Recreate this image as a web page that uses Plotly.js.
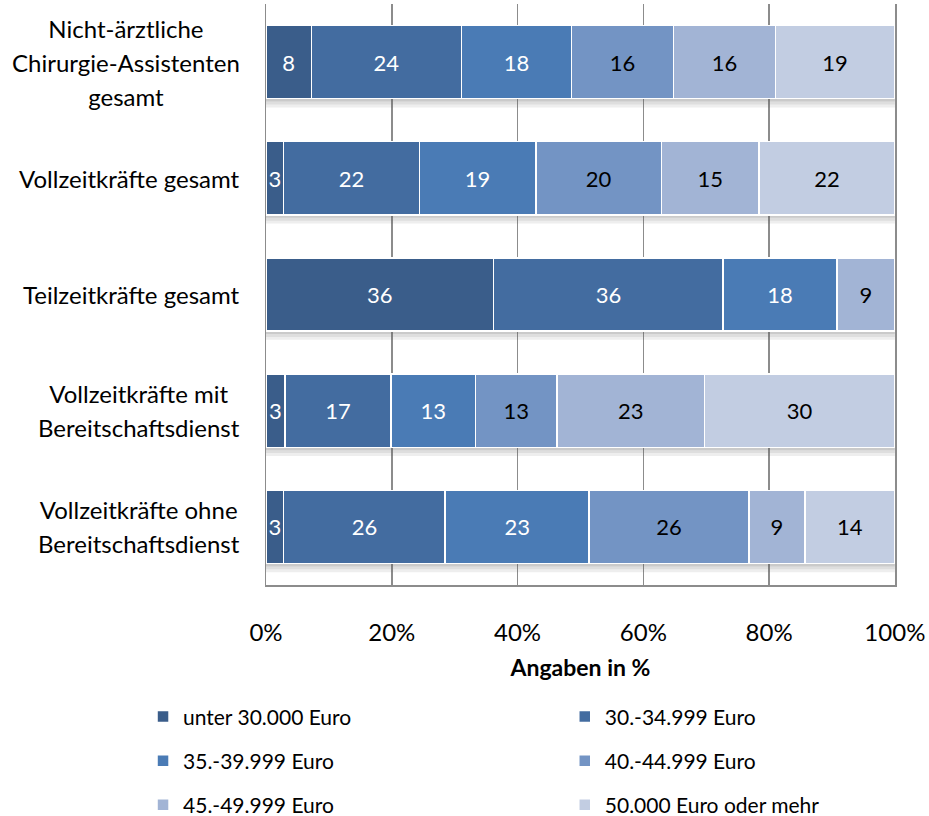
<!DOCTYPE html>
<html>
<head>
<meta charset="utf-8">
<script src="https://cdn.plot.ly/plotly-3.0.1.min.js"></script>
<style>html,body{margin:0;padding:0;background:#fff;}#chart{width:929px;height:816px;}</style>
</head>
<body>
<div id="chart"></div>
<script>
// Categories (top to bottom) and their label lines
const categories = [
  "Nicht-ärztliche Chirurgie-Assistenten gesamt",
  "Vollzeitkräfte gesamt",
  "Teilzeitkräfte gesamt",
  "Vollzeitkräfte mit Bereitschaftsdienst",
  "Vollzeitkräfte ohne Bereitschaftsdienst"
];
const categoryLines = [
  ["Nicht-ärztliche", "Chirurgie-Assistenten", "gesamt"],
  ["Vollzeitkräfte gesamt"],
  ["Teilzeitkräfte gesamt"],
  ["Vollzeitkräfte mit", "Bereitschaftsdienst"],
  ["Vollzeitkräfte ohne", "Bereitschaftsdienst"]
];

// Series names
const seriesNames = [
  "unter 30.000 Euro",
  "30.-34.999 Euro",
  "35.-39.999 Euro",
  "40.-44.999 Euro",
  "45.-49.999 Euro",
  "50.000 Euro oder mehr"
];

// Bar shares (%), per series across categories
const unter30  = [7.2, 2.8, 36.2, 3.0, 2.8];
const eur30_35 = [23.9, 21.6, 36.5, 16.9, 25.7];
const eur35_40 = [17.5, 18.5, 18.1, 13.4, 22.9];
const eur40_45 = [16.2, 20.0, null, 13.0, 25.4];
const eur45_50 = [16.2, 15.5, 9.2, 23.4, 8.9];
const eur50up  = [19.0, 21.6, null, 30.3, 14.3];

// Printed labels
const lab_unter30  = [8, 3, 36, 3, 3];
const lab_eur30_35 = [24, 22, 36, 17, 26];
const lab_eur35_40 = [18, 19, 18, 13, 23];
const lab_eur40_45 = [16, 20, null, 13, 26];
const lab_eur45_50 = [16, 15, 9, 23, 9];
const lab_eur50up  = [19, 22, null, 30, 14];

// X tick values
const xTicks = [0, 20, 40, 60, 80, 100];
const xTickText = ["0%", "20%", "40%", "60%", "80%", "100%"];

const values = [unter30, eur30_35, eur35_40, eur40_45, eur45_50, eur50up];
const labels = [lab_unter30, lab_eur30_35, lab_eur35_40, lab_eur40_45, lab_eur45_50, lab_eur50up];
const colors = ["#3a5d8a", "#436ca0", "#4a7bb5", "#7394c4", "#a2b4d5", "#c2cde2"];
const textColors = ["#ffffff", "#ffffff", "#ffffff", "#000000", "#000000", "#000000"];
const legendIds = ["legend", "legend2", "legend3", "legend4", "legend5", "legend6"];

const FONT = "Lato, 'Open Sans', sans-serif";
const BARGAP = 0.37;

const traces = values.map((v, i) => ({
  type: "bar",
  orientation: "h",
  name: seriesNames[i],
  y: categories,
  x: v,
  text: labels[i].map(t => t === null ? "" : String(t)),
  texttemplate: "%{text}",
  textposition: "inside",
  insidetextanchor: "middle",
  textangle: 0,
  constraintext: "none",
  cliponaxis: false,
  textfont: {family: FONT, size: 22, color: textColors[i]},
  marker: {color: colors[i], line: {color: "#ffffff", width: 1.5}},
  legend: legendIds[i],
  hoverinfo: "skip"
}));

const annotations = categories.map((c, i) => ({
  xref: "paper", yref: "y",
  x: 0, y: c,
  xanchor: "right", yanchor: "middle",
  xshift: -24,
  align: "center",
  showarrow: false,
  font: {family: FONT, size: 26, color: "#000"},
  text: categoryLines[i].map(l => '<span style="font-size:24px">' + l + '</span>').join("<br>")
}));

// soft drop shadow under each bar (decoration)
const half = (1 - BARGAP) / 2;
const shadowBands = [[0.000, 0.025, 0.32], [0.025, 0.050, 0.20], [0.050, 0.075, 0.10]];
const shapes = [];
categories.forEach((c, i) => {
  shadowBands.forEach(b => {
    shapes.push({
      type: "rect", layer: "between",
      xref: "x", yref: "y",
      x0: 0, x1: 100,
      y0: i + half + b[0], y1: i + half + b[1],
      fillcolor: "rgba(90,90,90," + b[2] + ")",
      line: {width: 0}
    });
  });
});

const legendBase = {
  orientation: "h",
  xref: "paper", yref: "paper",
  xanchor: "left",
  yanchor: "middle",
  bgcolor: "rgba(0,0,0,0)",
  font: {family: FONT, size: 21, color: "#000"}
};
const colX = [-0.1955, 0.475];
const rowY = [-0.227, -0.303, -0.379];

const layout = {
  width: 929,
  height: 816,
  margin: {l: 266, r: 34, t: 4, b: 231, autoexpand: false},
  paper_bgcolor: "#ffffff",
  plot_bgcolor: "#ffffff",
  barmode: "stack",
  bargap: BARGAP,
  showlegend: true,
  font: {family: FONT, size: 19, color: "#000"},
  xaxis: {
    range: [0, 100.02],
    tickvals: xTicks,
    ticktext: xTickText,
    showgrid: true,
    gridcolor: "#8c8c8c",
    gridwidth: 1.5,
    zeroline: false,
    showline: true,
    linecolor: "#8c8c8c",
    linewidth: 1.5,
    ticks: "",
    ticklabelstandoff: 26,
    tickfont: {family: FONT, size: 24, color: "#000"},
    title: {text: "<b>Angaben in %</b>", font: {family: FONT, size: 23, color: "#000"}, standoff: 14},
    automargin: false,
    fixedrange: true
  },
  yaxis: {
    autorange: "reversed",
    showticklabels: false,
    showgrid: false,
    zeroline: false,
    showline: true,
    mirror: true,
    linecolor: "#8c8c8c",
    linewidth: 1.5,
    ticks: "",
    automargin: false,
    fixedrange: true
  },
  annotations: annotations,
  shapes: shapes
};
legendIds.forEach((id, i) => {
  layout[id] = Object.assign({}, legendBase, {x: colX[i % 2], y: rowY[Math.floor(i / 2)]});
});

Plotly.newPlot("chart", traces, layout, {displayModeBar: false, staticPlot: true});
</script>
</body>
</html>
